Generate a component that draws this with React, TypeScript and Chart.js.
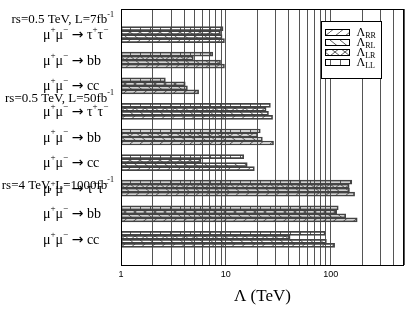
import React, { useEffect, useRef } from "react";
import { Chart, registerables } from "chart.js";

Chart.register(...registerables);

// ---- data ----
const categories = [
  "μ^{+}μ^{−} → τ^{+}τ^{−}",
  "μ^{+}μ^{−} → bb",
  "μ^{+}μ^{−} → cc",
  "μ^{+}μ^{−} → τ^{+}τ^{−}",
  "μ^{+}μ^{−} → bb",
  "μ^{+}μ^{−} → cc",
  "μ^{+}μ^{−} → τ^{+}τ^{−}",
  "μ^{+}μ^{−} → bb",
  "μ^{+}μ^{−} → cc",
];
const scenarios = [
  "rs=0.5 TeV, L=7fb^{-1}",
  "rs=0.5 TeV, L=50fb^{-1}",
  "rs=4 TeV, L=1000fb^{-1}",
];
const scenarioPositions = [0.43, 3.5, 6.9];

const lambdaLL = [9.4, 7.5, 2.65, 26.6, 21.3, 14.8, 159, 118, 88.5];
const lambdaLR = [8.9, 4.9, 4.1, 24.2, 20.1, 5.8, 150, 114, 41];
const lambdaRL = [9.2, 8.9, 4.3, 25.5, 22.3, 16, 151, 139, 91];
const lambdaRR = [9.7, 9.7, 5.5, 27.9, 28.5, 18.7, 169, 179, 109];

const legendLabels = ["Λ_{RR}", "Λ_{RL}", "Λ_{LR}", "Λ_{LL}"];
const xTicks = [1, 2, 3, 4, 5, 6, 7, 8, 9, 10, 20, 30, 40, 50, 60, 70, 80, 90, 100, 200, 300, 400, 500];
const xTickLabels = ["1", "10", "100"];
const xTitle = "Λ (TeV)";

const SERIF = "'Liberation Serif', 'Times New Roman', serif";
const SANS = "'Liberation Sans', Arial, sans-serif";
const ARROW_FONT = "'DejaVu Sans', sans-serif";

type Kind = "rr" | "rl" | "lr" | "ll";

function makePattern(ctx: CanvasRenderingContext2D, kind: Kind): CanvasPattern {
  const w = 10, h = 8;
  const c = document.createElement("canvas");
  c.width = w;
  c.height = h;
  const g = c.getContext("2d")!;
  g.strokeStyle = "#333";
  g.lineWidth = 0.8;
  g.beginPath();
  if (kind === "rr" || kind === "lr") {
    g.moveTo(-1, h + 0.8);
    g.lineTo(w + 1, -0.8);
  }
  if (kind === "rl" || kind === "lr") {
    g.moveTo(-1, -0.8);
    g.lineTo(w + 1, h + 0.8);
  }
  if (kind === "ll") {
    g.moveTo(0.5, 0);
    g.lineTo(0.5, h);
  }
  g.stroke();
  return ctx.createPattern(c, "repeat")!;
}

type Part = { t: string; m: "n" | "sup" | "sub" | "arrow" };

function parseRich(text: string): Part[] {
  const parts: Part[] = [];
  const re = /\^\{([^}]*)\}|_\{([^}]*)\}|→/g;
  let last = 0;
  let m: RegExpExecArray | null;
  while ((m = re.exec(text))) {
    if (m.index > last) parts.push({ t: text.slice(last, m.index), m: "n" });
    if (m[0] === "→") parts.push({ t: "→", m: "arrow" });
    else if (m[1] !== undefined) parts.push({ t: m[1], m: "sup" });
    else parts.push({ t: m[2], m: "sub" });
    last = m.index + m[0].length;
  }
  if (last < text.length) parts.push({ t: text.slice(last), m: "n" });
  return parts;
}

function drawRich(
  ctx: CanvasRenderingContext2D,
  text: string,
  x: number,
  y: number,
  size: number,
  align: "left" | "right",
  family: string
) {
  const parts = parseRich(text);
  const small = Math.round(size * 0.65);
  const fontOf = (p: Part) =>
    p.m === "arrow"
      ? `${size}px ${ARROW_FONT}`
      : `${p.m === "n" ? size : small}px ${family}`;
  let total = 0;
  for (const p of parts) {
    ctx.font = fontOf(p);
    total += ctx.measureText(p.t).width;
  }
  let cx = align === "right" ? x - total : x;
  ctx.textBaseline = "middle";
  ctx.textAlign = "left";
  ctx.fillStyle = "#000";
  for (const p of parts) {
    ctx.font = fontOf(p);
    const dy = p.m === "sup" ? -size * 0.42 : p.m === "sub" ? size * 0.3 : 0;
    ctx.fillText(p.t, cx, y + dy);
    cx += ctx.measureText(p.t).width;
  }
}

export default function App() {
  const ref = useRef<HTMLCanvasElement | null>(null);

  useEffect(() => {
    document.body.style.margin = "0";
    const canvas = ref.current!;
    const ctx = canvas.getContext("2d")!;
    const patterns: Record<Kind, CanvasPattern> = {
      rr: makePattern(ctx, "rr"),
      rl: makePattern(ctx, "rl"),
      lr: makePattern(ctx, "lr"),
      ll: makePattern(ctx, "ll"),
    };
    const pad = (arr: number[]) => [null, ...arr, null];
    const labels = ["", ...categories, ""];

    const decorations = {
      id: "decorations",
      afterDatasetsDraw(chart: any) {
        const c = chart.ctx as CanvasRenderingContext2D;
        const { left, right, top, bottom } = chart.chartArea;
        const y = chart.scales.y;
        c.save();
        // frame
        c.strokeStyle = "#000";
        c.lineWidth = 1;
        c.strokeRect(Math.round(left) + 0.5, Math.round(top) + 0.5, Math.round(right - left) - 1, Math.round(bottom - top));
        // category labels
        categories.forEach((t, i) => {
          drawRich(c, t, 43, y.getPixelForValue(i + 1) + 1, 14, "left", SERIF);
        });
        scenarios.forEach((t, i) => {
          drawRich(c, t, left - 7, y.getPixelForValue(scenarioPositions[i]), 13, "right", SERIF);
        });
        // legend
        const bx = Math.round(right) - 82.5;
        const by = Math.round(top) + 12.5;
        const bw = 60, bh = 57;
        c.fillStyle = "#fff";
        c.fillRect(bx, by, bw, bh);
        c.strokeStyle = "#000";
        c.strokeRect(bx, by, bw, bh);
        const kinds: Kind[] = ["rr", "rl", "lr", "ll"];
        kinds.forEach((k, i) => {
          const sy = by + 8 + i * 10;
          c.fillStyle = patterns[k];
          c.fillRect(bx + 4, sy, 24, 6);
          c.strokeStyle = "#000";
          c.strokeRect(bx + 4, sy, 24, 6);
          drawRich(c, legendLabels[i], bx + 35, sy + 3, 12, "left", SERIF);
        });
        c.restore();
      },
    };

    const mk = (label: string, data: number[], k: Kind) => ({
      label,
      data: pad(data),
      backgroundColor: patterns[k],
      borderColor: "#444",
      borderWidth: 1,
      borderSkipped: false,
      barThickness: 4,
    });

    const chart = new Chart(canvas, {
      type: "bar",
      data: {
        labels,
        datasets: [
          mk("LL", lambdaLL, "ll"),
          mk("LR", lambdaLR, "lr"),
          mk("RL", lambdaRL, "rl"),
          mk("RR", lambdaRR, "rr"),
        ] as any,
      },
      options: {
        indexAxis: "y",
        animation: false,
        responsive: false,
        layout: { padding: { left: 0, right: 5, top: 9, bottom: 0 } },
        plugins: { legend: { display: false }, tooltip: { enabled: false } },
        scales: {
          x: {
            type: "logarithmic",
            min: 1,
            max: 500,
            afterBuildTicks(scale: any) {
              scale.ticks = xTicks.map((v) => ({ value: v }));
            },
            afterFit(scale: any) {
              scale.height = 45;
            },
            grid: { color: "#555", lineWidth: 1, drawTicks: false },
            border: { display: false },
            ticks: {
              autoSkip: false,
              maxRotation: 0,
              padding: 4,
              color: "#000",
              font: { family: SANS, size: 9 },
              callback(value: any) {
                const s = String(value);
                return xTickLabels.includes(s) ? s : "";
              },
            },
            title: {
              display: true,
              text: xTitle,
              color: "#000",
              font: { family: SERIF, size: 17 },
              padding: { top: 0, bottom: 3 },
            },
          },
          y: {
            type: "category",
            offset: false,
            afterFit(scale: any) {
              scale.width = 121;
            },
            grid: { display: false },
            border: { display: false },
            ticks: { display: false },
          },
        },
      },
      plugins: [decorations],
    } as any);
    return () => chart.destroy();
  }, []);

  return <canvas ref={ref} width={409} height={310} style={{ display: "block" }} />;
}
